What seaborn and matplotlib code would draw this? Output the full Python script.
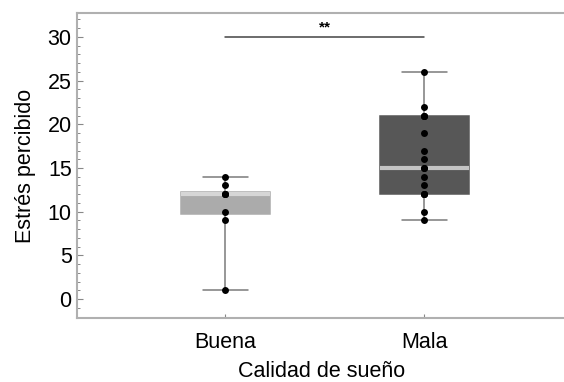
import matplotlib
matplotlib.use("Agg")
import matplotlib.pyplot as plt
import seaborn as sns
import pandas as pd
from matplotlib.ticker import MultipleLocator

# datos
categorias = ["Buena", "Mala"]
buena = [1, 9, 10, 12, 12, 12, 13, 14]
mala = [9, 10, 12, 12, 12, 13, 14, 15, 15, 16, 17, 19, 21, 21, 21, 22, 26]
colores_caja = ["#ababab", "#575757"]
colores_mediana = ["#d6d6d6", "#c4c4c4"]
yticks = [0, 5, 10, 15, 20, 25, 30]
sig_y = 30
sig_text = "**"

df = pd.DataFrame({
    "Calidad de sueño": ["Buena"] * len(buena) + ["Mala"] * len(mala),
    "Estrés percibido": buena + mala,
})

sns.set_style("white")
plt.rcParams["font.family"] = ["Liberation Sans", "DejaVu Sans"]
plt.rcParams["text.color"] = "black"
plt.rcParams["axes.labelcolor"] = "black"
plt.rcParams["xtick.labelcolor"] = "black"
plt.rcParams["ytick.labelcolor"] = "black"

fig = plt.figure(figsize=(5.64, 3.82), dpi=100)
ax = fig.add_axes([0.137, 0.168, 0.866, 0.797])

sns.boxplot(data=df, x="Calidad de sueño", y="Estrés percibido", hue="Calidad de sueño",
            order=categorias, hue_order=categorias, palette=colores_caja, legend=False,
            width=0.45, whis=(0, 100), linecolor="#7a7a7a", linewidth=1.1,
            showfliers=False, ax=ax)

# ajustar medianas y bordes de caja
for i, cont in enumerate(ax.containers):
    for box in cont.boxes:
        box.set_edgecolor(colores_caja[i])
    for med in cont.medians:
        med.set_color(colores_mediana[i])
        med.set_linewidth(3)

sns.stripplot(data=df, x="Calidad de sueño", y="Estrés percibido", order=categorias,
              color="black", jitter=False, size=5, ax=ax, zorder=5)

ax.plot([0, 1], [sig_y, sig_y], color="#444444", lw=1.1)
ax.text(0.5, sig_y + 0.3, sig_text, ha="center", va="bottom", fontsize=11, fontweight="bold")

ax.set_xlim(-0.745, 1.71)
ax.set_ylim(-2.15, 32.7)
ax.set_yticks(yticks)
ax.yaxis.set_minor_locator(MultipleLocator(1))
ax.tick_params(axis="y", which="major", direction="in", length=4, width=0.8,
               color="#888888", labelsize=15.5, pad=4, left=True)
ax.tick_params(axis="y", which="minor", direction="in", length=2, width=0.7,
               color="#888888", left=True)
ax.tick_params(axis="x", which="major", direction="in", length=3, width=0.8,
               color="#888888", labelsize=15.5, pad=10, bottom=True)

ax.set_xlabel("Calidad de sueño", fontsize=15.5, labelpad=6)
ax.set_ylabel("Estrés percibido", fontsize=15.5, labelpad=8)

for s in ax.spines.values():
    s.set_color("#b0b0b0")
    s.set_linewidth(1.5)
ax.spines["right"].set_visible(False)

fig.savefig("out.png", dpi=100)
